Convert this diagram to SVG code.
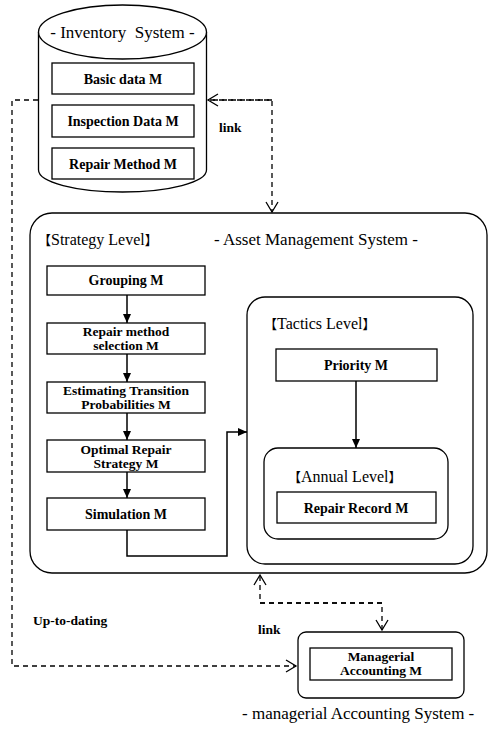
<svg xmlns="http://www.w3.org/2000/svg" width="488" height="731" viewBox="0 0 488 731">
<defs>
<marker id="fill" markerWidth="10" markerHeight="10" refX="9" refY="5" orient="auto" markerUnits="userSpaceOnUse">
<path d="M0,1 L9,5 L0,9 Z" fill="#000"/>
</marker>
<marker id="open" markerWidth="14" markerHeight="14" refX="11" refY="7" orient="auto" markerUnits="userSpaceOnUse">
<path d="M1,1 L11,7 L1,13" fill="none" stroke="#000" stroke-width="1.3"/>
</marker>
</defs>
<style>
.box{fill:#fff;stroke:#000;stroke-width:1.3}
.cont{fill:none;stroke:#000;stroke-width:1.3}
.lbl{font-family:"Liberation Serif","Times New Roman",serif;font-weight:bold;font-size:14px;text-anchor:middle;fill:#000}
.two{font-size:13.5px}
.ttl{font-family:"Liberation Serif","Times New Roman",serif;font-size:17px;fill:#000}
.lvl{font-family:"Liberation Serif","Noto Sans CJK JP",serif;font-size:16px;fill:#000}
.br{font-size:13px}
.sm{font-family:"Liberation Serif","Times New Roman",serif;font-weight:bold;font-size:13.5px;fill:#000}
.solid{fill:none;stroke:#000;stroke-width:1.5;marker-end:url(#fill)}
.dash{fill:none;stroke:#000;stroke-width:1.3;stroke-dasharray:5,4}
</style>
<rect width="488" height="731" fill="#fff"/>

<g id="inventory">
<path class="box" d="M38.5,32 V170 A84,22 0 0 0 206.5,170 V32"/>
<ellipse class="box" cx="122.5" cy="32" rx="84" ry="27"/>
<text class="ttl" x="122.5" y="38" text-anchor="middle" font-size="18" xml:space="preserve">- Inventory  System -</text>
</g>
<g id="basic"><rect class="box" x="52" y="63" width="142" height="31"/><text class="lbl" x="123" y="84">Basic data M</text></g>
<g id="inspection"><rect class="box" x="52" y="105" width="142" height="32"/><text class="lbl" x="123" y="126">Inspection Data M</text></g>
<g id="repairmethod"><rect class="box" x="52" y="148" width="142" height="31"/><text class="lbl" x="123" y="169">Repair Method M</text></g>

<g id="asset">
<rect class="cont" x="30" y="213" width="457" height="360" rx="22"/>
<text class="lvl" x="38" y="245"><tspan class="br">【</tspan>Strategy Level<tspan class="br">】</tspan></text>
<text class="ttl" x="214" y="245">- Asset Management System -</text>
</g>
<g id="grouping"><rect class="box" x="47" y="266" width="158" height="29"/><text class="lbl" x="126" y="285">Grouping M</text></g>
<g id="selection"><rect class="box" x="47" y="323" width="158" height="31"/><text class="lbl two" x="126" y="336">Repair method<tspan x="126" dy="13.5">selection M</tspan></text></g>
<g id="estimating"><rect class="box" x="47" y="382" width="158" height="31"/><text class="lbl two" x="126" y="395">Estimating Transition<tspan x="126" dy="13.5">Probabilities M</tspan></text></g>
<g id="optimal"><rect class="box" x="47" y="440" width="158" height="32"/><text class="lbl two" x="126" y="454">Optimal Repair<tspan x="126" dy="13.5">Strategy M</tspan></text></g>
<g id="simulation"><rect class="box" x="47" y="498" width="158" height="32"/><text class="lbl" x="126" y="519">Simulation M</text></g>

<g id="tactics">
<rect class="cont" x="247" y="297" width="226" height="267" rx="18"/>
<text class="lvl" x="264" y="329"><tspan class="br">【</tspan>Tactics Level<tspan class="br">】</tspan></text>
</g>
<g id="priority"><rect class="box" x="276" y="349" width="161" height="32"/><text class="lbl" x="356" y="370">Priority M</text></g>
<g id="annual">
<rect class="cont" x="264" y="448" width="184" height="91" rx="14"/>
<text class="lvl" x="288" y="482"><tspan class="br">【</tspan>Annual Level<tspan class="br">】</tspan></text>
</g>
<g id="record"><rect class="box" x="277" y="492" width="159" height="31"/><text class="lbl" x="356" y="513">Repair Record M</text></g>

<g id="accounting">
<rect class="cont" x="298" y="632" width="166" height="66" rx="8"/>
<rect class="box" x="310" y="648" width="142" height="32"/>
<text class="lbl two" x="381" y="661">Managerial<tspan x="381" dy="13.5">Accounting M</tspan></text>
<text class="ttl" x="242" y="719" font-size="18">- managerial Accounting System -</text>
</g>

<g id="connectors">
<line class="solid" x1="127" y1="295" x2="127" y2="323"/>
<line class="solid" x1="127" y1="354" x2="127" y2="382"/>
<line class="solid" x1="127" y1="413" x2="127" y2="440"/>
<line class="solid" x1="127" y1="472" x2="127" y2="498"/>
<polyline class="solid" points="127,530 127,556 227,556 227,432 247,432"/>
<line class="solid" x1="356" y1="381" x2="356" y2="448"/>
<path class="dash" d="M272,100 H208" marker-end="url(#open)"/>
<path class="dash" d="M210,100 H272 V212" marker-end="url(#open)"/>
<path class="dash" d="M38,100 H12 V666 H296" marker-end="url(#open)"/>
<path class="dash" d="M382,603 H260 V575" marker-end="url(#open)"/>
<path class="dash" d="M260,603 H382 V630" marker-end="url(#open)"/>
<text class="sm" x="219" y="132">link</text>
<text class="sm" x="33" y="625">Up-to-dating</text>
<text class="sm" x="258" y="634">link</text>
</g>
</svg>
